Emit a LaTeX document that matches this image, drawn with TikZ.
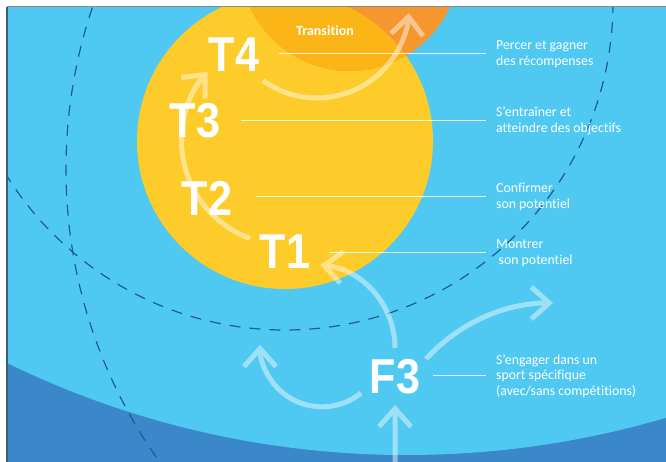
\documentclass[tikz,border=0pt]{standalone}
\usepackage{fontspec}
\setmainfont{Liberation Sans}
\newfontfamily\bigfont[FakeStretch=0.88]{Liberation Sans}
\newfontfamily\txtfont[Ligatures={NoCommon,NoRare,NoDiscretionary}]{Carlito}
\usetikzlibrary{arrows.meta}
\definecolor{skyb}{HTML}{4FC9F2}
\definecolor{deepb}{HTML}{3A88C9}
\definecolor{sunY}{HTML}{FECC2A}
\definecolor{orng}{HTML}{F6962F}
\definecolor{ovlp}{HTML}{FBB516}
\definecolor{dashb}{HTML}{1C5A99}
\definecolor{frameL}{HTML}{3A5F6F}
\definecolor{frameT}{HTML}{8A8A8A}
\begin{document}
\begin{tikzpicture}[x=1pt,y=-1pt,
  flow/.style={line width=5pt, white, -{Straight Barb[length=18pt,width=32pt]}},
  dashc/.style={dashb, line width=1.2pt, dash pattern=on 11pt off 9pt},
  lead/.style={white, line width=0.9pt, opacity=0.85},
  big/.style={text=white, font=\bigfont\bfseries\fontsize{49}{49}\selectfont, inner sep=0pt},
  desc/.style={text=white, font=\txtfont\fontsize{13.8}{15.5}\selectfont, align=left, anchor=west, inner xsep=10pt, inner ysep=0pt},
  trans/.style={text=white, font=\txtfont\bfseries\fontsize{14}{14}\selectfont, inner sep=0pt}]
\useasboundingbox (0,0) rectangle (666,462);
\fill[white] (0,0) rectangle (666,462);
% background shapes
\begin{scope}
  \clip (7,7) rectangle (666,462);
  \fill[deepb] (7,7) rectangle (666,462);
  \fill[skyb] (407,-458) circle[radius=913];
  \coordinate (ycen) at (285,141);
  \coordinate (ocen) at (350,-39);
  \fill[sunY] (ycen) circle[radius=148];
  \fill[orng] (ocen) circle[radius=110];
  \begin{scope}
    \clip (ycen) circle[radius=148];
    \fill[ovlp] (ocen) circle[radius=110];
  \end{scope}
  \draw[dashc] (285,2) circle[radius=328];
  \draw[dashc] (571,169) circle[radius=505];
\end{scope}
% frame edges
\draw[frameT, line width=1pt] (7,7) -- (666,7);
\draw[frameL, line width=1.5pt] (7,7) -- (7,462);
% big labels
\node[big] (T4) at (234,55) {T4};
\node[big] (T3) at (195,121) {T3};
\node[big] (T2) at (207,198) {T2};
\node[big] (T1) at (285,252) {T1};
\node[big] (F3) at (395,377) {F3};
\node[trans] (tr) at (325,31) {Transition};
% arrows
\coordinate (aIn) at (395,462);
\coordinate (aInEnd) at (395,405);
\coordinate (aUp) at (395,348);
\coordinate (aRight) at (426,359);
\coordinate (aLeft) at (361,393);
\coordinate (aT) at (250,238.4);
\coordinate (aTr) at (263,80.4);
\begin{scope}[transparency group, opacity=0.45]
  \draw[flow] (aIn) -- (aInEnd);
  \draw[flow] (aUp) arc[start angle=0, end angle=-84, radius=83.4];
  \draw[flow] (aRight) arc[start angle=-137.6, end angle=-90, radius=172];
  \draw[flow] (aLeft) arc[start angle=51, end angle=180, radius=62];
  \draw[flow] (aT) arc[start angle=110, end angle=221.5, radius=104];
  \draw[flow] (aTr) arc[start angle=126, end angle=4.4, radius=92];
\end{scope}
% descriptions
\node[desc] (d4) at (486,54) {Percer et gagner\\des récompenses};
\node[desc] (d3) at (486,121) {S’entraîner et\\atteindre des objectifs};
\node[desc] (d2) at (486,197) {Confirmer\\son potentiel};
\node[desc] (d1) at (486,253) {Montrer\\\hspace*{2.5pt}son potentiel};
\node[desc] (d0) at (486,376) {S’engager dans un\\sport spécifique\\(avec/sans compétitions)};
\coordinate (l4) at (279,53);
\coordinate (l3) at (241,120);
\coordinate (l2) at (256,196);
\coordinate (l1) at (329,252);
\coordinate (l0) at (433,375);
\draw[lead] (l4) -- (l4 -| d4.west);
\draw[lead] (l3) -- (l3 -| d3.west);
\draw[lead] (l2) -- (l2 -| d2.west);
\draw[lead] (l1) -- (l1 -| d1.west);
\draw[lead] (l0) -- (l0 -| d0.west);
\end{tikzpicture}
\end{document}
